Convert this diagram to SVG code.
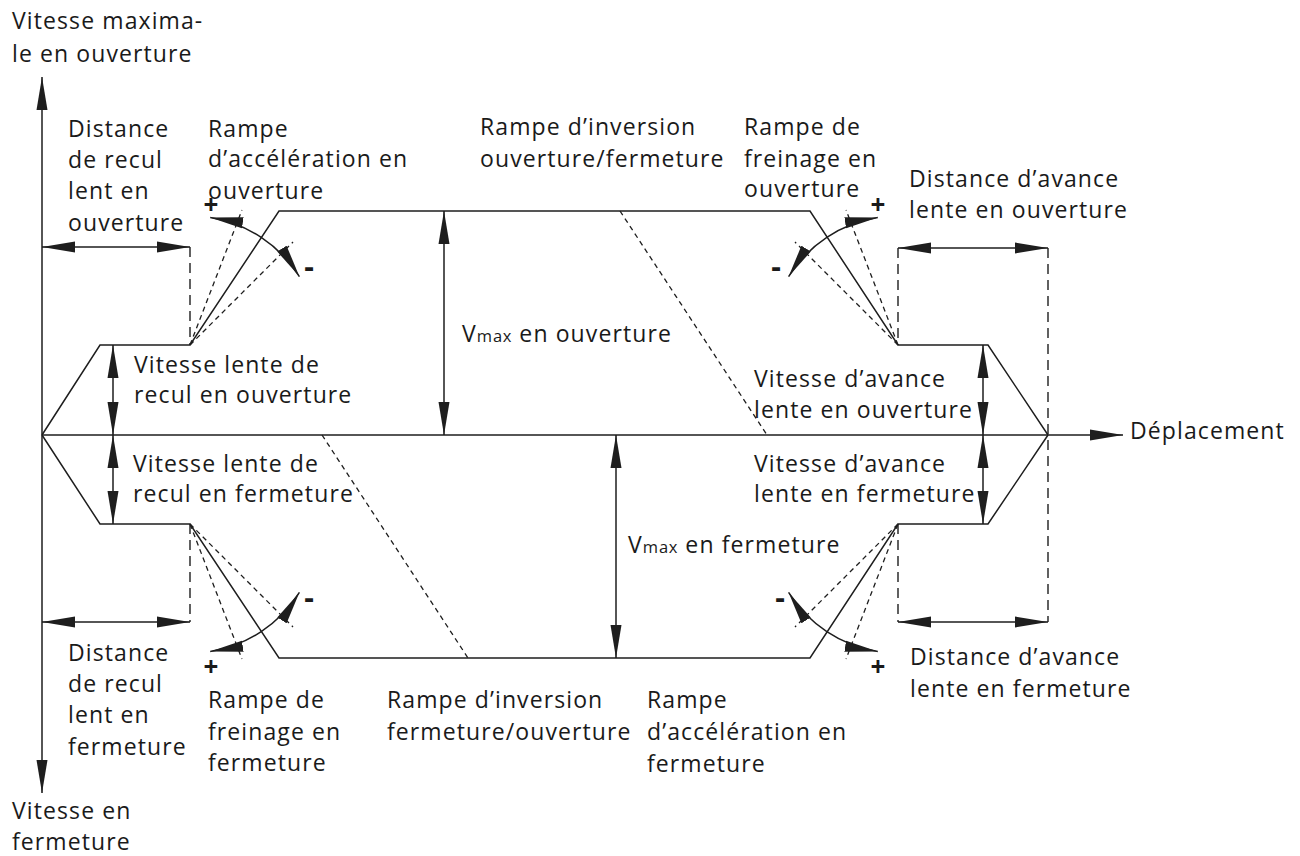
<svg xmlns="http://www.w3.org/2000/svg" width="1300" height="856" viewBox="0 0 1300 856">
<defs>
<marker id="ah" markerUnits="userSpaceOnUse" markerWidth="34" markerHeight="12" refX="33" refY="5.5" orient="auto-start-reverse" viewBox="0 0 34 11">
<path d="M0,0 L33,5.5 L0,11 Z" fill="#1e1e1e"/>
</marker>
<style>
.s{fill:none;stroke:#1e1e1e;stroke-width:1.5}
.d{fill:none;stroke:#1e1e1e;stroke-width:1.4;stroke-dasharray:10 6}
.f{fill:none;stroke:#1e1e1e;stroke-width:1.3;stroke-dasharray:5 4}
.a{fill:none;stroke:#1e1e1e;stroke-width:1.5;marker-start:url(#ah);marker-end:url(#ah)}
.e{fill:none;stroke:#1e1e1e;stroke-width:1.5;marker-end:url(#ah)}
text{font-family:"Open Sans","Noto Sans","Liberation Sans",sans-serif;font-size:23px;letter-spacing:1.1px;fill:#1a1a1a}
.sg{font-weight:bold;text-anchor:middle;font-size:26px;letter-spacing:0}
.mi{font-weight:bold;text-anchor:middle;font-size:30px;letter-spacing:0}
.sub{font-size:16.5px;letter-spacing:0.8px}
</style>
</defs>
<rect width="1300" height="856" fill="#fff"/>

<g id="axes">
<path class="a" d="M42,793 L42,77"/>
<path class="e" d="M42,435 L1123,435"/>
</g>

<g id="profile">
<path class="s" d="M42,435 L100,345 L190,345 L279,211 L810,211 L898,345 L988,345 L1048,435"/>
<path class="s" d="M42,435 L100,524 L190,524 L279,658 L810,658 L898,524 L988,524 L1048,435"/>
</g>

<g id="connectors">
<path class="a" d="M42,247 L190,247"/>
<path class="a" d="M42,622 L190,622"/>
<path class="a" d="M898,248 L1048,248"/>
<path class="a" d="M898,622 L1048,622"/>
<path class="a" d="M113,345 L113,435"/>
<path class="a" d="M113,435 L113,524"/>
<path class="a" d="M983,345 L983,435"/>
<path class="a" d="M983,435 L983,524"/>
<path class="a" d="M444,211 L444,435"/>
<path class="a" d="M616,435 L616,658"/>
<path class="d" d="M190,247 L190,345"/>
<path class="d" d="M190,524 L190,622"/>
<path class="d" d="M898,248 L898,345"/>
<path class="d" d="M898,524 L898,622"/>
<path class="d" d="M1048,248 L1048,622"/>
<path class="f" d="M620,211 L767,435"/>
<path class="f" d="M322,435 L468,658"/>
<path class="f" d="M190,345 L242,210 M190,345 L293,242"/>
<path class="f" d="M898,345 L846,210 M898,345 L795,242"/>
<path class="f" d="M190,524 L242,659 M190,524 L293,627"/>
<path class="f" d="M898,524 L846,659 M898,524 L795,627"/>
<path class="a" d="M210.2,217.6 A129,129 0 0 1 299.4,276.6"/>
<path class="a" d="M877.8,217.6 A129,129 0 0 0 788.6,276.6"/>
<path class="a" d="M210.2,651.4 A129,129 0 0 0 299.4,592.4"/>
<path class="a" d="M877.8,651.4 A129,129 0 0 1 788.6,592.4"/>
</g>

<g id="signs">
<text class="sg" x="211" y="214">+</text>
<text class="mi" x="309" y="277">-</text>
<text class="sg" x="878" y="214">+</text>
<text class="mi" x="776" y="277">-</text>
<text class="sg" x="211" y="676">+</text>
<text class="mi" x="309" y="608">-</text>
<text class="sg" x="878" y="676">+</text>
<text class="mi" x="780" y="608">-</text>
</g>

<g id="label-y-open"><text x="12" y="29">Vitesse maxima-</text><text x="12" y="62">le en ouverture</text></g>
<g id="label-dist-recul-ouv"><text x="68" y="137">Distance</text><text x="68" y="168">de recul</text><text x="68" y="199">lent en</text><text x="68" y="231">ouverture</text></g>
<g id="label-acc-ouv"><text x="208" y="137">Rampe</text><text x="208" y="167">d’accélération en</text><text x="208" y="199">ouverture</text></g>
<g id="label-inv-ouv"><text x="480" y="135">Rampe d’inversion</text><text x="480" y="167">ouverture/fermeture</text></g>
<g id="label-frein-ouv"><text x="744" y="135">Rampe de</text><text x="744" y="167">freinage en</text><text x="744" y="197">ouverture</text></g>
<g id="label-dist-avance-ouv"><text x="909" y="187">Distance d’avance</text><text x="909" y="218">lente en ouverture</text></g>
<g id="label-v-recul-ouv"><text x="134" y="373">Vitesse lente de</text><text x="134" y="403">recul en ouverture</text></g>
<g id="label-vmax-ouv"><text x="462" y="342">V<tspan class="sub">max</tspan> en ouverture</text></g>
<g id="label-v-avance-ouv"><text x="754" y="387">Vitesse d’avance</text><text x="754" y="418">lente en ouverture</text></g>
<g id="label-x"><text x="1130" y="439">Déplacement</text></g>
<g id="label-v-recul-ferm"><text x="133" y="472">Vitesse lente de</text><text x="133" y="502">recul en fermeture</text></g>
<g id="label-v-avance-ferm"><text x="754" y="472">Vitesse d’avance</text><text x="754" y="502">lente en fermeture</text></g>
<g id="label-vmax-ferm"><text x="628" y="553">V<tspan class="sub">max</tspan> en fermeture</text></g>
<g id="label-dist-recul-ferm"><text x="68" y="661">Distance</text><text x="68" y="692">de recul</text><text x="68" y="723">lent en</text><text x="68" y="755">fermeture</text></g>
<g id="label-frein-ferm"><text x="208" y="708">Rampe de</text><text x="208" y="740">freinage en</text><text x="208" y="771">fermeture</text></g>
<g id="label-inv-ferm"><text x="387" y="708">Rampe d’inversion</text><text x="387" y="740">fermeture/ouverture</text></g>
<g id="label-acc-ferm"><text x="647" y="708">Rampe</text><text x="647" y="740">d’accélération en</text><text x="647" y="772">fermeture</text></g>
<g id="label-dist-avance-ferm"><text x="910" y="665">Distance d’avance</text><text x="910" y="697">lente en fermeture</text></g>
<g id="label-y-close"><text x="12" y="819">Vitesse en</text><text x="12" y="850">fermeture</text></g>
</svg>
